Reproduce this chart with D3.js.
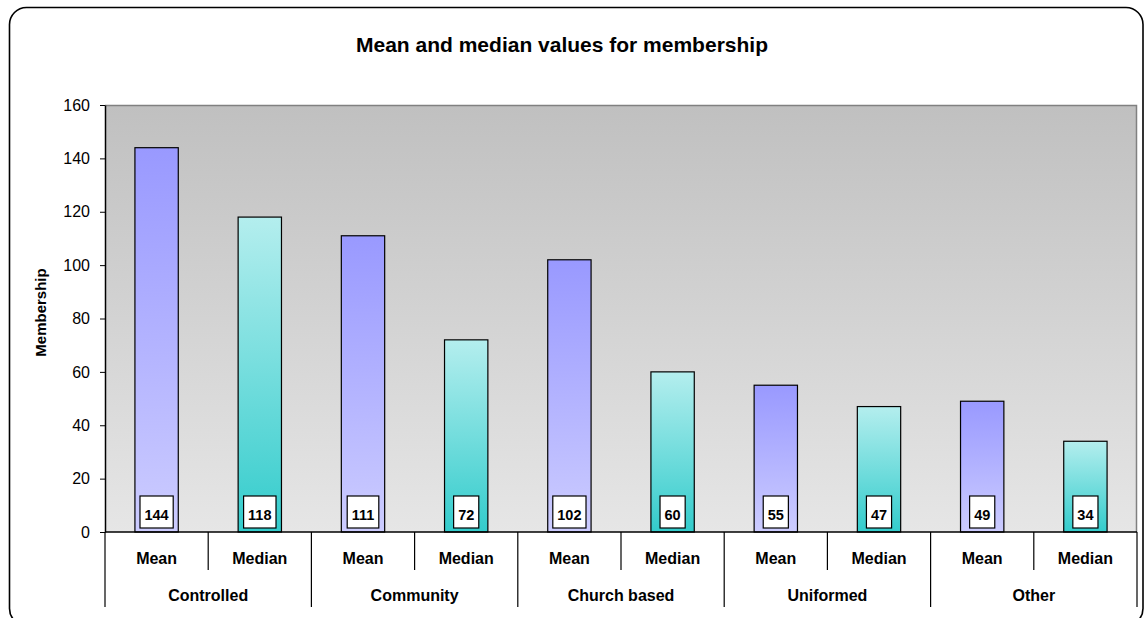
<!DOCTYPE html>
<html>
<head>
<meta charset="utf-8">
<script src="https://cdn.jsdelivr.net/npm/d3@7"></script>
<style>
  html, body { margin: 0; padding: 0; background: #ffffff; }
  svg { display: block; font-family: Arial, "Liberation Sans", sans-serif; }
</style>
</head>
<body>
<svg id="chart" width="1144" height="618"></svg>
<script>
// ---- data ----
const categories = ["Controlled", "Community", "Church based", "Uniformed", "Other"];
const measures = ["Mean", "Median"];
const meanValues = [144, 111, 102, 55, 49];
const medianValues = [118, 72, 60, 47, 34];
const yTicks = [0, 20, 40, 60, 80, 100, 120, 140, 160];
const chartTitle = "Mean and median values for membership";
const yTitle = "Membership";

const svg = d3.select("#chart");
const plot = { left: 105, right: 1137, top: 105, bottom: 532 };

// outer rounded border
svg.append("rect")
  .attr("x", 9.5).attr("y", 7.5)
  .attr("width", 1133.5).attr("height", 618)
  .attr("rx", 17).attr("ry", 17)
  .attr("fill", "#ffffff").attr("stroke", "#000").attr("stroke-width", 1.6);

const defs = svg.append("defs");
const bg = defs.append("linearGradient").attr("id", "bgGrad")
  .attr("x1", 0).attr("y1", 0).attr("x2", 0).attr("y2", 1);
bg.append("stop").attr("offset", "0%").attr("stop-color", "#c0c0c0");
bg.append("stop").attr("offset", "100%").attr("stop-color", "#e6e6e6");

const gMean = defs.append("linearGradient").attr("id", "meanGrad")
  .attr("x1", 0).attr("y1", 0).attr("x2", 0).attr("y2", 1);
gMean.append("stop").attr("offset", "0%").attr("stop-color", "#9999ff");
gMean.append("stop").attr("offset", "100%").attr("stop-color", "#ccccff");

const gMed = defs.append("linearGradient").attr("id", "medGrad")
  .attr("x1", 0).attr("y1", 0).attr("x2", 0).attr("y2", 1);
gMed.append("stop").attr("offset", "0%").attr("stop-color", "#b4eeee");
gMed.append("stop").attr("offset", "100%").attr("stop-color", "#33cccc");

// scales
const x0 = d3.scaleBand().domain(categories).range([plot.left, plot.right]).padding(0);
const x1 = d3.scaleBand().domain(measures).range([0, x0.bandwidth()]).padding(0);
const y = d3.scaleLinear().domain([0, 160]).range([plot.bottom, plot.top]);

// plot background
svg.append("rect")
  .attr("x", plot.left).attr("y", plot.top)
  .attr("width", plot.right - plot.left).attr("height", plot.bottom - plot.top)
  .attr("fill", "url(#bgGrad)");
// gray top/right border
svg.append("path")
  .attr("d", `M${plot.left},${plot.top + 0.5}H${plot.right - 0.5}V${plot.bottom}`)
  .attr("fill", "none").attr("stroke", "#808080").attr("stroke-width", 1.5);

// title
svg.append("text")
  .attr("x", 562).attr("y", 52)
  .attr("text-anchor", "middle")
  .attr("font-size", 21).attr("font-weight", "bold")
  .text(chartTitle);

// y axis
const yAxis = d3.axisLeft(y).tickValues(yTicks).tickSize(5).tickPadding(10).tickSizeOuter(0);
const yg = svg.append("g").attr("transform", `translate(${plot.left},0)`).call(yAxis);
yg.select(".domain").attr("stroke", "#000").attr("stroke-width", 1.5);
yg.selectAll(".tick line").attr("stroke", "#000");
yg.selectAll(".tick text").attr("font-size", 16).attr("font-family", "Arial, 'Liberation Sans', sans-serif").attr("fill", "#000");

svg.append("text")
  .attr("transform", `translate(46,${(plot.top + plot.bottom) / 2 - 6}) rotate(-90)`)
  .attr("text-anchor", "middle")
  .attr("font-size", 15).attr("font-weight", "bold")
  .text(yTitle);

// bars
const rows = [];
categories.forEach((c, i) => {
  rows.push({ cat: c, m: "Mean", v: meanValues[i] });
  rows.push({ cat: c, m: "Median", v: medianValues[i] });
});
const barW = x1.bandwidth() * 0.42;
const bars = svg.append("g");
bars.selectAll("rect").data(rows).enter().append("rect")
  .attr("x", d => x0(d.cat) + x1(d.m) + (x1.bandwidth() - barW) / 2)
  .attr("y", d => y(d.v))
  .attr("width", barW)
  .attr("height", d => y(0) - y(d.v))
  .attr("fill", d => d.m === "Mean" ? "url(#meanGrad)" : "url(#medGrad)")
  .attr("stroke", "#000").attr("stroke-width", 1.2);

// data labels
const lab = svg.append("g");
rows.forEach(d => {
  const cx = x0(d.cat) + x1(d.m) + x1.bandwidth() / 2;
  const g = lab.append("g");
  const t = g.append("text")
    .attr("x", cx).attr("y", y(0) - 12)
    .attr("text-anchor", "middle")
    .attr("font-size", 14.5).attr("font-weight", "bold")
    .text(d3.format("d")(d.v));
  const tw = t.node().getComputedTextLength();
  g.insert("rect", "text")
    .attr("x", cx - tw / 2 - 4.5).attr("y", y(0) - 36)
    .attr("width", tw + 9).attr("height", 32)
    .attr("fill", "#fff").attr("stroke", "#000").attr("stroke-width", 1.2);
});

// x axis
const xg = svg.append("g");
xg.append("line").attr("x1", plot.left).attr("x2", plot.right)
  .attr("y1", plot.bottom).attr("y2", plot.bottom)
  .attr("stroke", "#000").attr("stroke-width", 1.5);
// category separators (long)
const catEdges = categories.map(c => x0(c)).concat([x0.range()[1]]);
catEdges.forEach(xv => {
  xg.append("line").attr("x1", xv).attr("x2", xv)
    .attr("y1", plot.bottom).attr("y2", 607)
    .attr("stroke", "#000").attr("stroke-width", 1.2);
});
// subcategory separators (short)
categories.forEach(c => {
  const xv = x0(c) + x1("Median");
  xg.append("line").attr("x1", xv).attr("x2", xv)
    .attr("y1", plot.bottom).attr("y2", 570)
    .attr("stroke", "#000").attr("stroke-width", 1.2);
});
// sub labels
rows.forEach(d => {
  xg.append("text")
    .attr("x", x0(d.cat) + x1(d.m) + x1.bandwidth() / 2)
    .attr("y", 564)
    .attr("text-anchor", "middle")
    .attr("font-size", 16).attr("font-weight", "bold")
    .text(d.m);
});
categories.forEach(c => {
  xg.append("text")
    .attr("x", x0(c) + x0.bandwidth() / 2)
    .attr("y", 601)
    .attr("text-anchor", "middle")
    .attr("font-size", 16).attr("font-weight", "bold")
    .text(c);
});
</script>
</body>
</html>
